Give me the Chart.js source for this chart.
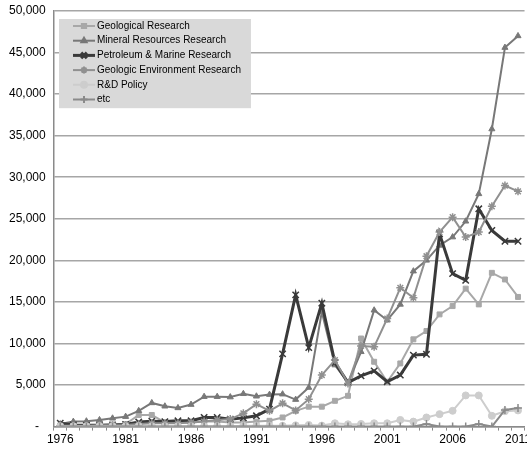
<!DOCTYPE html>
<html>
<head>
<meta charset="utf-8">
<script src="https://cdn.jsdelivr.net/npm/chart.js@4.4.1/dist/chart.umd.min.js"></script>
<style>
html, body { margin: 0; padding: 0; background: #fff; overflow: hidden; }
#wrap { position: relative; width: 533px; height: 449px; }
</style>
</head>
<body>
<div id="wrap"><canvas id="cht_research"></canvas></div>
<script>
"use strict";

var years = ['1976','1977','1978','1979','1980','1981','1982','1983','1984','1985',
	'1986','1987','1988','1989','1990','1991','1992','1993','1994','1995',
	'1996','1997','1998','1999','2000','2001','2002','2003','2004','2005',
	'2006','2007','2008','2009','2010','2011'];
var tickYears = ['1976','1981','1986','1991','1996','2001','2006','2011'];

var geological = [100,100,150,200,250,300,1400,1400,500,500,
	500,600,600,500,500,600,700,1100,1900,2400,
	2400,3100,3700,10600,7800,5400,7600,10500,11500,13500,
	14500,16600,14700,18500,17700,15600];
var mineral = [300,600,650,800,1000,1200,1900,2850,2450,2250,
	2650,3600,3600,3550,3950,3650,3850,3900,3250,4700,
	13800,7400,5300,9000,14000,12800,14700,18700,20000,21800,
	22800,24700,28000,35800,45600,47000];
var petroleum = [400,200,150,150,200,250,550,650,600,700,
	700,1100,1100,900,1050,1300,2100,8750,15850,9500,
	14850,7700,5300,6100,6700,5400,6200,8600,8700,23200,
	18400,17600,26200,23600,22300,22300];
var geoEnv = [100,100,100,150,150,200,300,400,400,400,
	500,600,800,900,1600,2700,1900,2800,1950,3300,
	6200,8000,5200,9700,9600,13000,16700,15500,20500,23400,
	25200,22800,23400,26500,29000,28300];
var rndPolicy = [50,50,50,50,50,50,50,50,50,50,
	50,50,50,50,100,100,100,100,150,200,
	120,400,280,320,400,400,800,600,1100,1500,
	1900,3750,3750,1300,1850,1950];
var etc = [0,0,0,0,0,0,0,0,0,0,
	0,0,0,0,0,0,0,0,0,0,
	0,0,0,0,0,0,0,0,300,0,
	0,0,300,0,2000,2250];

var fontFamily = '"Liberation Sans", Arial, sans-serif';

function series(label, data, color, width, style, radius, order) {
	return {
		label: label,
		data: data,
		borderColor: color,
		backgroundColor: color,
		borderWidth: width,
		pointStyle: style,
		pointRadius: radius,
		pointBorderWidth: (style == 'crossRot' || style == 'cross' || style == 'star') ? 1.5 : 1,
		pointBackgroundColor: color,
		pointBorderColor: color,
		tension: 0,
		fill: false,
		order: order
	};
}

// legend drawn inside the plot, grey box like the original
var boxLegend = {
	id: 'boxLegend',
	afterDraw: function (chart) {
		var ctx = chart.ctx;
		var sets = chart.data.datasets;
		var x = 59, y = 19, rowH = 14.7;
		ctx.save();
		ctx.font = '10px ' + fontFamily;
		var w = 0;
		for (var i = 0; i < sets.length; i++) {
			w = Math.max(w, ctx.measureText(sets[i].label).width);
		}
		ctx.fillStyle = '#d9d9d9';
		ctx.fillRect(x, y, 38 + w + 10, rowH * sets.length + 1);
		for (var i = 0; i < sets.length; i++) {
			var s = sets[i];
			var cy = y + 7 + i * rowH;
			ctx.strokeStyle = s.borderColor;
			ctx.fillStyle = s.borderColor;
			ctx.lineWidth = s.borderWidth;
			ctx.beginPath();
			ctx.moveTo(x + 14, cy);
			ctx.lineTo(x + 36, cy);
			ctx.stroke();
			if (Chart.helpers && Chart.helpers.drawPoint) {
				Chart.helpers.drawPoint(ctx, {
					pointStyle: s.pointStyle,
					radius: s.pointRadius - 0.5,
					rotation: 0,
					borderWidth: s.pointBorderWidth
				}, x + 25, cy);
			}
			ctx.fillStyle = '#000';
			ctx.textBaseline = 'middle';
			ctx.textAlign = 'left';
			ctx.fillText(s.label, x + 38, cy);
		}
		ctx.restore();
	}
};

var researchChart = new Chart(document.getElementById('cht_research').getContext('2d'), {
	type: 'line',
	data: {
		labels: years,
		datasets: [
			series('Geological Research', geological, '#a8a8a8', 2, 'rect', 3.5, 6),
			series('Mineral Resources Research', mineral, '#787878', 2, 'triangle', 3.5, 5),
			series('Petroleum & Marine Research', petroleum, '#3a3a3a', 3, 'crossRot', 4.5, 4),
			series('Geologic Environment Research', geoEnv, '#909090', 2, 'star', 4, 3),
			series('R&D Policy', rndPolicy, '#cdcdcd', 2, 'circle', 3.5, 2),
			series('etc', etc, '#8a8a8a', 2, 'cross', 4, 1)
		]
	},
	options: {
		responsive: true,
		maintainAspectRatio: false,
		animation: false,
		devicePixelRatio: 1,
		layout: { padding: { left: 1, top: 0, right: 0, bottom: 0 } },
		plugins: {
			legend: { display: false },
			tooltip: { enabled: false }
		},
		scales: {
			x: {
				offset: true,
				grid: { display: true, drawOnChartArea: false, offset: true, tickLength: 4, color: '#8a8a8a', lineWidth: 1 },
				border: { display: true, color: '#8a8a8a', width: 1.5 },
				ticks: {
					autoSkip: false,
					maxRotation: 0,
					color: '#000',
					padding: 2,
					font: { family: fontFamily, size: 12 },
					callback: function (v, i) {
						return tickYears.indexOf(years[i]) >= 0 ? years[i] : '';
					}
				}
			},
			y: {
				min: 0,
				max: 50000,
				grid: { color: '#a6a6a6', lineWidth: 1.5, drawTicks: false },
				border: { display: true, color: '#8a8a8a', width: 1.5 },
				afterFit: function (scale) {
					scale.paddingTop = 11;
				},
				ticks: {
					stepSize: 5000,
					color: '#000',
					padding: 8,
					font: { family: fontFamily, size: 12 },
					callback: function (v) {
						return v === 0 ? '-  ' : v.toLocaleString('en-US');
					}
				}
			}
		}
	},
	plugins: [boxLegend]
});
</script>
</body>
</html>
